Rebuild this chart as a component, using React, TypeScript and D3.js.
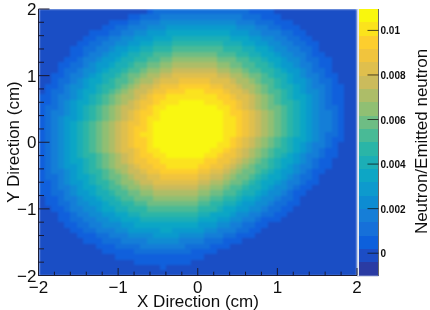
import React from "react";
import * as d3 from "d3";

const xTicks = [-2, -1, 0, 1, 2];
const yTicks = [-2, -1, 0, 1, 2];
const zTicks = [0, 0.002, 0.004, 0.006, 0.008, 0.01];
const zLabels = ["0", "0.002", "0.004", "0.006", "0.008", "0.01"];
const zMin = -0.001;
const zMax = 0.01096;
const nLevels = 20;
const binsPerAxis = 50;
const birdStops = [0, 0.125, 0.25, 0.375, 0.5, 0.625, 0.75, 0.875, 1];
const birdColors = [
  "rgb(53,42,135)", "rgb(15,92,221)", "rgb(20,129,214)", "rgb(6,164,202)", "rgb(46,183,164)",
  "rgb(135,191,119)", "rgb(209,187,89)", "rgb(254,200,50)", "rgb(249,251,14)",
];

// Contour band per bin, top row first: pairs of [band, last column of that band].
const bandRuns: number[][] = [
  [1,16,2,17,3,32,2,36,1,49],
  [1,13,2,15,3,18,4,31,3,34,2,37,1,49],
  [1,10,2,13,3,15,4,18,5,30,4,33,3,36,2,39,1,49],
  [1,9,2,11,3,13,4,16,5,19,6,30,5,33,4,35,3,37,2,40,1,49],
  [1,7,2,10,3,12,4,14,5,16,6,19,7,29,6,32,5,34,4,37,3,39,2,41,1,49],
  [1,6,2,8,3,10,4,12,5,14,6,17,7,20,8,29,7,32,6,34,5,36,4,38,3,40,2,42,1,49],
  [1,5,2,7,3,9,4,11,5,13,6,15,7,17,8,20,9,28,8,31,7,33,6,35,5,37,4,39,3,41,2,43,1,49],
  [1,4,2,6,3,8,4,10,5,11,6,13,7,15,8,17,9,20,10,28,9,31,8,33,7,35,6,36,5,38,4,40,3,42,2,43,1,49],
  [1,4,2,6,3,7,4,9,5,10,6,12,7,13,8,15,9,17,10,20,11,27,10,30,9,32,8,34,7,36,6,37,5,39,4,41,3,42,2,44,1,49],
  [1,3,2,5,3,6,4,8,5,9,6,11,7,12,8,14,9,16,10,18,11,20,12,27,11,30,10,32,9,34,8,35,7,37,6,38,5,40,4,41,3,43,2,45,1,49],
  [1,2,2,4,3,6,4,7,5,8,6,10,7,11,8,13,9,14,10,16,11,18,12,20,13,27,12,29,11,31,10,33,9,35,8,36,7,37,6,39,5,40,4,42,3,43,2,45,1,49],
  [1,2,2,3,3,5,4,6,5,8,6,9,7,10,8,12,9,13,10,15,11,16,12,18,13,20,14,27,13,29,12,31,11,32,10,34,9,36,8,37,7,38,6,40,5,41,4,42,3,44,2,45,1,49],
  [1,1,2,3,3,4,4,6,5,7,6,8,7,9,8,11,9,12,10,13,11,15,12,16,13,18,14,20,15,27,14,29,13,31,12,32,11,34,10,35,9,36,8,38,7,39,6,40,5,41,4,43,3,44,2,46,1,49],
  [1,1,2,2,3,4,4,5,5,6,6,7,7,9,8,10,9,11,10,13,11,14,12,15,13,17,14,18,15,21,16,26,15,29,14,30,13,32,12,33,11,34,10,36,9,37,8,38,7,39,6,41,5,42,4,43,3,45,2,46,1,49],
  [1,0,2,2,3,3,4,4,5,6,6,7,7,8,8,9,9,11,10,12,11,13,12,14,13,15,14,17,15,18,16,21,17,26,16,28,15,30,14,31,13,33,12,34,11,35,10,36,9,37,8,39,7,40,6,41,5,42,4,44,3,45,2,47,1,49],
  [1,0,2,1,3,3,4,4,5,5,6,6,7,8,8,9,9,10,10,11,11,12,12,13,13,14,14,16,15,17,16,19,17,22,18,25,17,28,16,29,15,31,14,32,13,33,12,34,11,35,10,37,9,38,8,39,7,40,6,41,5,43,4,44,3,45,2,47,1,49],
  [2,1,3,2,4,4,5,5,6,6,7,7,8,8,9,9,10,10,11,11,12,12,13,14,14,15,15,16,16,17,17,19,18,27,17,29,16,30,15,32,14,33,13,34,12,35,11,36,10,37,9,38,8,39,7,41,6,42,5,43,4,44,3,45,2,47,1,49],
  [2,1,3,2,4,3,5,4,6,5,7,7,8,8,9,9,10,10,11,11,12,12,13,13,14,14,15,15,16,17,17,18,18,21,19,25,18,28,17,30,16,31,15,32,14,33,13,34,12,35,11,36,10,37,9,39,8,40,7,41,6,42,5,43,4,44,3,45,2,47,1,49],
  [2,0,3,2,4,3,5,4,6,5,7,6,8,7,9,8,10,9,11,10,12,11,13,12,14,14,15,15,16,16,17,17,18,19,19,27,18,29,17,30,16,31,15,32,14,33,13,34,12,35,11,37,10,38,9,39,8,40,7,41,6,42,5,43,4,44,3,46,2,47,1,49],
  [2,0,3,1,4,3,5,4,6,5,7,6,8,7,9,8,10,9,11,10,12,11,13,12,14,13,15,14,16,15,17,17,18,18,19,28,18,29,17,31,16,32,15,33,14,34,13,35,12,36,11,37,10,38,9,39,8,40,7,41,6,42,5,43,4,45,3,46,2,47,1,49],
  [2,0,3,1,4,2,5,3,6,5,7,6,8,7,9,8,10,9,11,10,12,11,13,12,14,13,15,14,16,15,17,16,18,18,19,28,18,30,17,31,16,32,15,33,14,34,13,35,12,36,11,37,10,38,9,39,8,40,7,41,6,42,5,43,4,45,3,46,2,47,1,49],
  [2,0,3,1,4,2,5,3,6,4,7,5,8,6,9,7,10,8,11,9,12,10,13,11,14,12,15,13,16,15,17,16,18,17,19,28,18,30,17,31,16,32,15,33,14,34,13,35,12,36,11,37,10,38,9,39,8,40,7,41,6,42,5,43,4,45,3,46,2,47,1,49],
  [2,0,3,1,4,2,5,3,6,4,7,5,8,6,9,7,10,8,11,9,12,10,13,11,14,12,15,13,16,14,17,16,18,17,19,28,18,30,17,31,16,32,15,33,14,34,13,35,12,36,11,37,10,38,9,39,8,40,7,41,6,42,5,43,4,45,3,46,2,47,1,49],
  [2,0,3,1,4,2,5,3,6,4,7,5,8,6,9,7,10,8,11,9,12,10,13,11,14,12,15,13,16,14,17,15,18,17,19,28,18,30,17,31,16,32,15,33,14,34,13,35,12,36,11,37,10,38,9,39,8,40,7,41,6,42,5,43,4,44,3,46,2,47,1,49],
  [2,0,3,1,4,2,5,3,6,4,7,5,8,6,9,7,10,8,11,9,12,10,13,11,14,12,15,13,16,14,17,16,18,17,19,28,18,29,17,30,16,31,15,32,14,33,13,34,12,35,11,36,10,37,9,38,8,39,7,41,6,42,5,43,4,44,3,45,2,47,1,49],
  [2,0,3,1,4,2,5,3,6,4,7,5,8,6,9,7,10,8,11,9,12,10,13,11,14,12,15,13,16,14,17,16,18,17,19,27,18,29,17,30,16,31,15,32,14,33,13,34,12,35,11,36,10,37,9,38,8,39,7,40,6,41,5,42,4,44,3,45,2,46,1,49],
  [2,0,3,1,4,2,5,3,6,4,7,5,8,6,9,7,10,8,11,9,12,10,13,11,14,12,15,14,16,15,17,16,18,18,19,26,18,28,17,29,16,30,15,31,14,32,13,33,12,34,11,35,10,36,9,38,8,39,7,40,6,41,5,42,4,43,3,44,2,46,1,49],
  [2,0,3,1,4,2,5,3,6,4,7,5,8,6,9,8,10,9,11,10,12,11,13,12,14,13,15,14,16,15,17,17,18,19,19,25,18,27,17,28,16,30,15,31,14,32,13,33,12,34,11,35,10,36,9,37,8,38,7,39,6,40,5,41,4,43,3,44,2,46,1,49],
  [2,0,3,1,4,2,5,3,6,4,7,6,8,7,9,8,10,9,11,10,12,11,13,12,14,13,15,14,16,16,17,18,18,25,17,27,16,29,15,30,14,31,13,32,12,33,11,34,10,35,9,36,8,37,7,39,6,40,5,41,4,42,3,43,2,45,1,49],
  [2,0,3,1,4,2,5,3,6,5,7,6,8,7,9,8,10,9,11,10,12,11,13,13,14,14,15,15,16,17,17,19,18,24,17,26,16,28,15,29,14,30,13,31,12,32,11,33,10,35,9,36,8,37,7,38,6,39,5,40,4,42,3,43,2,45,1,49],
  [2,0,3,1,4,3,5,4,6,5,7,6,8,7,9,9,10,10,11,11,12,12,13,13,14,15,15,16,16,18,17,24,16,26,15,28,14,29,13,30,12,31,11,33,10,34,9,35,8,36,7,37,6,39,5,40,4,41,3,42,2,44,1,49],
  [2,0,3,2,4,3,5,4,6,5,7,7,8,8,9,9,10,10,11,12,12,13,13,14,14,16,15,18,16,24,15,26,14,28,13,29,12,30,11,32,10,33,9,34,8,35,7,37,6,38,5,39,4,40,3,42,2,43,1,49],
  [2,1,3,2,4,3,5,4,6,6,7,7,8,8,9,10,10,11,11,12,12,14,13,15,14,17,15,24,14,26,13,28,12,29,11,31,10,32,9,33,8,34,7,36,6,37,5,38,4,40,3,41,2,43,1,49],
  [2,1,3,2,4,4,5,5,6,6,7,8,8,9,9,10,10,12,11,13,12,15,13,17,14,24,13,26,12,28,11,29,10,31,9,32,8,34,7,35,6,36,5,38,4,39,3,40,2,42,1,49],
  [2,1,3,3,4,4,5,5,6,7,7,8,8,10,9,11,10,13,11,15,12,17,13,24,12,26,11,28,10,30,9,31,8,33,7,34,6,35,5,37,4,38,3,39,2,41,1,49],
  [1,0,2,2,3,3,4,5,5,6,6,8,7,9,8,11,9,12,10,14,11,17,12,24,11,26,10,28,9,30,8,31,7,33,6,34,5,36,4,37,3,39,2,40,1,49],
  [1,0,2,2,3,4,4,5,5,7,6,9,7,10,8,12,9,14,10,16,11,24,10,26,9,28,8,30,7,31,6,33,5,35,4,36,3,38,2,40,1,49],
  [1,1,2,3,3,4,4,6,5,8,6,9,7,11,8,13,9,16,10,24,9,27,8,28,7,30,6,32,5,34,4,35,3,37,2,39,1,49],
  [1,2,2,4,3,5,4,7,5,9,6,11,7,13,8,15,9,24,8,26,7,29,6,30,5,32,4,34,3,36,2,38,1,49],
  [1,2,2,4,3,6,4,8,5,10,6,12,7,15,8,24,7,27,6,29,5,31,4,33,3,34,2,37,1,49],
  [1,3,2,5,3,7,4,9,5,12,6,14,7,24,6,27,5,29,4,31,3,33,2,35,1,49],
  [1,4,2,6,3,8,4,11,5,13,6,18,7,20,6,25,5,27,4,30,3,32,2,34,1,49],
  [1,5,2,8,3,10,4,13,5,17,6,21,5,25,4,28,3,30,2,33,1,49],
  [1,6,2,9,3,12,4,16,5,21,4,25,3,28,2,31,1,49],
  [1,8,2,11,3,15,4,22,3,26,2,29,1,49],
  [1,9,2,14,3,23,2,27,1,49],
  [1,11,2,25,1,49],
  [1,14,2,23,1,49],
  [1,18,2,19,1,49],
  [1,49],
];

const W = 430;
const H = 310;
const plot = { left: 38.5, right: 357, top: 9, bottom: 275.5 };
const bar = { left: 358.5, right: 378.5 };
const FONT = "'Liberation Sans', Arial, sans-serif";
const AXIS = "#1a1a33";

const bandStep = (zMax - zMin) / nLevels;
const bandValue = (band: number) => zMin + (band + 0.5) * bandStep;

const x = d3.scaleLinear().domain([-2, 2]).range([plot.left, plot.right]);
const y = d3.scaleLinear().domain([-2, 2]).range([plot.bottom, plot.top]);
const z = d3.scaleLinear().domain([zMin, zMax]).range([plot.bottom, plot.top]);
const bird = d3.scaleLinear<string>().domain(birdStops).range(birdColors).interpolate(d3.interpolateRgb);
const colour = (value: number) => bird((value - zMin) / (zMax - zMin) + 0.015);
const binX = d3.scaleLinear().domain([0, binsPerAxis]).range([-2, 2]);
const binY = d3.scaleLinear().domain([0, binsPerAxis]).range([2, -2]);

const minorX = d3.range(-2, 2.0001, 0.2).map((v) => +v.toFixed(1));
const minorY = d3.range(-2, 2.0001, 0.2).map((v) => +v.toFixed(1));
const label = (v: number) => (v < 0 ? "\u2212" + Math.abs(v) : String(v));

export default function App() {
  const cells: React.ReactElement[] = [];
  bandRuns.forEach((runs, row) => {
    let start = 0;
    for (let i = 0; i < runs.length; i += 2) {
      const end = runs[i + 1] + 1;
      const x0 = x(binX(start));
      const x1 = x(binX(end));
      const y0 = y(binY(row));
      const y1 = y(binY(row + 1));
      cells.push(
        <rect key={row + "-" + i} x={x0} y={y0} width={x1 - x0} height={y1 - y0}
          shapeRendering="crispEdges" fill={colour(bandValue(runs[i]))} />
      );
      start = end;
    }
  });
  return (
    <svg width={W} height={H} viewBox={`0 0 ${W} ${H}`}
      style={{ position: "absolute", left: 0, top: 0, background: "#fff" }}>
      <defs>
        <clipPath id="plotClip">
          <rect x={plot.left} y={plot.top} width={plot.right - plot.left} height={plot.bottom - plot.top} />
        </clipPath>
        <filter id="softHeat" x="-2%" y="-2%" width="104%" height="104%" colorInterpolationFilters="sRGB">
          <feGaussianBlur stdDeviation="0.85" edgeMode="duplicate" />
        </filter>
        <filter id="soft" x="0" y="0" width="100%" height="100%">
          <feGaussianBlur stdDeviation="0.4" />
        </filter>
      </defs>
      <g clipPath="url(#plotClip)">
        <g filter="url(#softHeat)">{cells}</g>
      </g>
      <g filter="url(#soft)">
        {d3.range(nLevels).map((band) => (
          <rect key={band} x={bar.left} width={bar.right - bar.left} shapeRendering="crispEdges"
            y={z(zMin + (band + 1) * bandStep)} height={z(zMin + band * bandStep) - z(zMin + (band + 1) * bandStep)}
            fill={colour(bandValue(band))} />
        ))}
        <line x1={plot.right + 0.7} x2={plot.right + 0.7} y1={plot.top} y2={plot.bottom + 0.5} stroke="#c8d0e4" strokeWidth={1.4} />
        <line x1={plot.right} x2={bar.right} y1={plot.bottom + 0.7} y2={plot.bottom + 0.7} stroke="#c8d0e4" strokeWidth={1} />
        <line x1={bar.right} x2={bar.right} y1={plot.top} y2={plot.bottom} stroke="#666" strokeWidth={1} />
        <line x1={plot.left} x2={plot.left} y1={plot.top} y2={plot.bottom} stroke={AXIS} strokeWidth={1} />
        <line x1={plot.left} x2={plot.right} y1={plot.bottom} y2={plot.bottom} stroke={AXIS} strokeWidth={1} />
        {minorX.map((v) => {
          const major = Number.isInteger(v);
          return <line key={v} x1={x(v)} x2={x(v)} y1={plot.bottom} y2={plot.bottom - (major ? 7.5 : 3.8)} stroke={AXIS} strokeWidth={1} />;
        })}
        {minorY.map((v) => {
          const major = Number.isInteger(v);
          return <line key={v} y1={y(v)} y2={y(v)} x1={plot.left} x2={plot.left + (major ? 11 : 5.5)} stroke={AXIS} strokeWidth={1} />;
        })}
        {zTicks.map((v) => (
          <line key={v} x1={bar.right} x2={bar.right - 11} y1={z(v)} y2={z(v)} stroke="#111" strokeOpacity={0.75} strokeWidth={1} />
        ))}
        <g fontFamily={FONT} fontSize={17} fill="#111">
          {xTicks.map((v) => (
            <text key={v} x={x(v)} y={292.5} textAnchor="middle">{label(v)}</text>
          ))}
          {yTicks.map((v) => (
            <text key={v} x={36.5} y={y(v) + 6} textAnchor="end">{label(v)}</text>
          ))}
          <text x={198} y={306.5} textAnchor="middle">X Direction (cm)</text>
          <text transform="translate(18.5,142) rotate(-90)" textAnchor="middle">Y Direction (cm)</text>
          <text transform="translate(426.5,141.5) rotate(-90)" textAnchor="middle">Neutron/Emitted neutron</text>
        </g>
        <g fontFamily={FONT} fontSize={10} fontWeight="bold" fill="#111">
          {zTicks.map((v, i) => (
            <text key={v} x={380.5} y={z(v) + 4}>{zLabels[i]}</text>
          ))}
        </g>
      </g>
    </svg>
  );
}
